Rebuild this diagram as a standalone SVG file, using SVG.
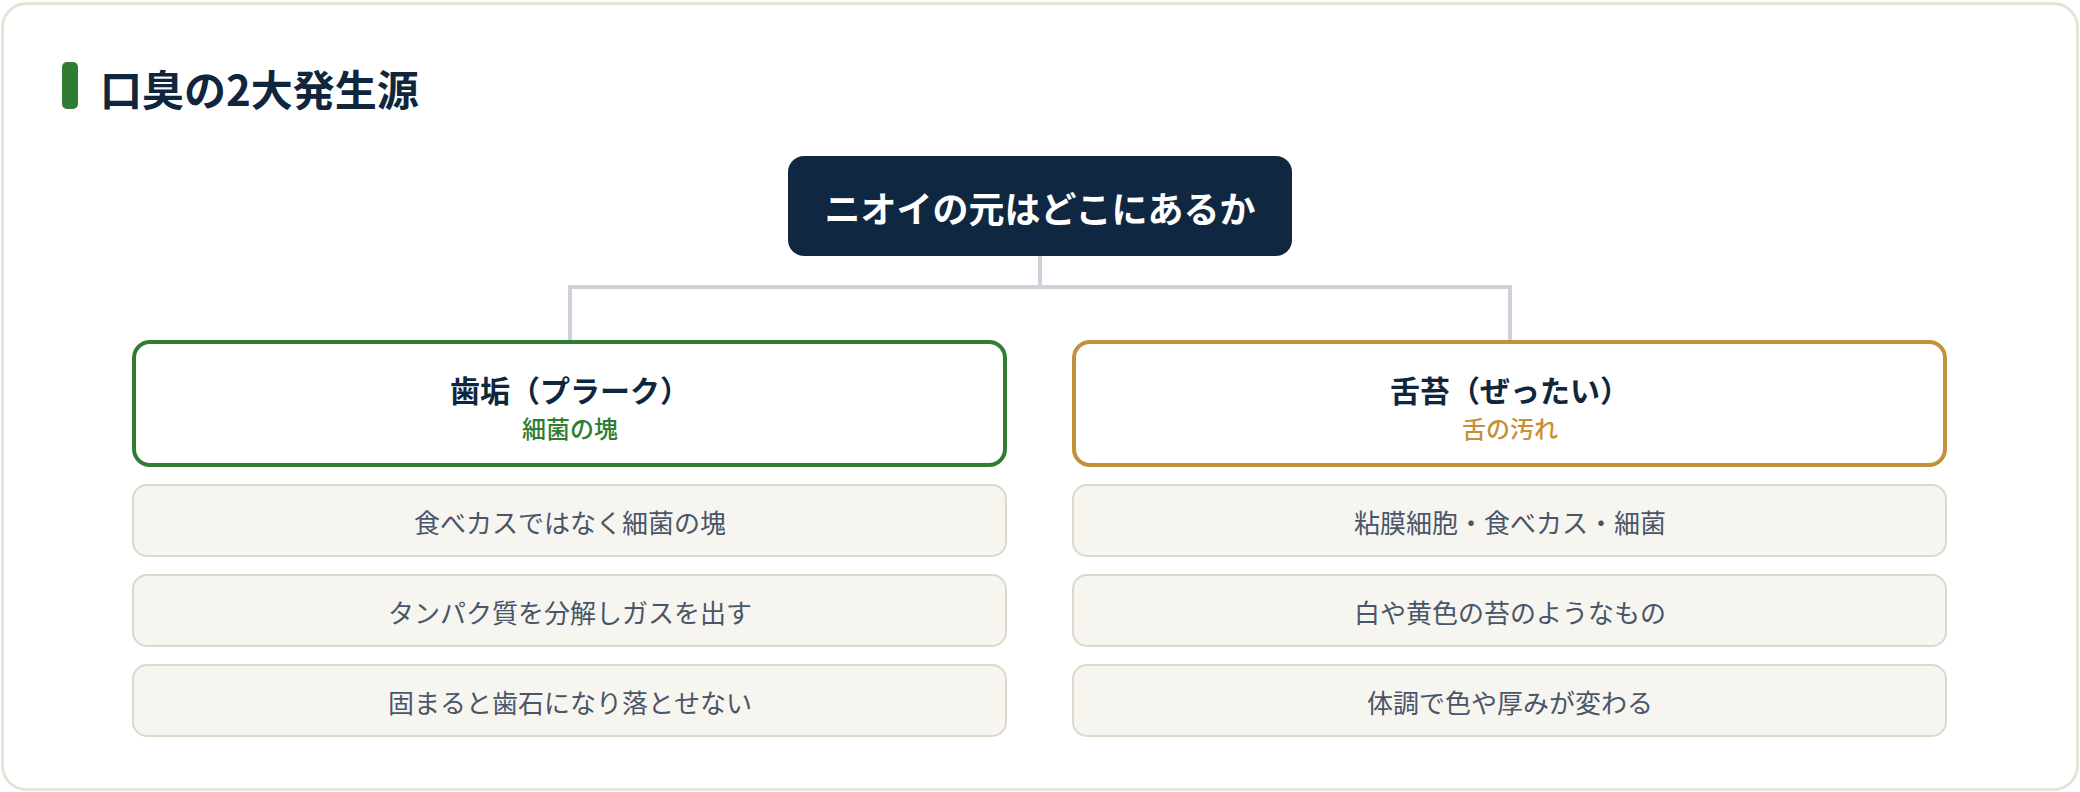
<svg xmlns="http://www.w3.org/2000/svg" width="2080" height="792" viewBox="0 0 2080 792">
<style>
text{font-family:"Noto Sans CJK JP","Noto Sans",sans-serif;text-anchor:middle;dominant-baseline:central}
.title{font-size:42px;font-weight:700;fill:#10263d;text-anchor:start}
.root-t{font-size:36px;font-weight:700;fill:#ffffff}
.cat-t{font-size:30px;font-weight:700;fill:#10263d}
.sub{font-size:24px;font-weight:500}
.item rect{fill:#f6f5f0;stroke:#dcd9ca;stroke-width:2}
.item text{font-size:26px;font-weight:400;fill:#4a5568}
.conn{fill:none;stroke:#cbd2db;stroke-width:4}
</style>
<rect x="2.5" y="3.5" width="2075" height="786" rx="24" fill="#ffffff" stroke="#e6e3d7" stroke-width="3"/>
<g id="heading">
<rect x="62" y="62" width="16" height="47" rx="5" fill="#2e7d32"/>
<text class="title" x="100" y="87">口臭の2大発生源</text>
</g>
<g id="connectors">
<path class="conn" d="M1040 256 V287 M570 340 V287 H1510 V340"/>
</g>
<g id="root">
<rect x="788" y="156" width="504" height="100" rx="16" fill="#0f2740"/>
<text class="root-t" x="1040" y="207">ニオイの元はどこにあるか</text>
</g>
<g id="plaque">
<rect x="134" y="342" width="871" height="123" rx="16" fill="#ffffff" stroke="#2e7d32" stroke-width="4"/>
<text class="cat-t" x="570" y="389">歯垢（プラーク）</text>
<text class="sub" x="570" y="427" fill="#2e7d32">細菌の塊</text>
</g>
<g id="coating">
<rect x="1074" y="342" width="871" height="123" rx="16" fill="#ffffff" stroke="#c4913a" stroke-width="4"/>
<text class="cat-t" x="1510" y="389">舌苔（ぜったい）</text>
<text class="sub" x="1510" y="427" fill="#c4913a">舌の汚れ</text>
</g>
<g id="plaque-1" class="item"><rect x="133" y="485" width="873" height="71" rx="14"/><text x="570" y="521">食べカスではなく細菌の塊</text></g>
<g id="plaque-2" class="item"><rect x="133" y="575" width="873" height="71" rx="14"/><text x="570" y="611">タンパク質を分解しガスを出す</text></g>
<g id="plaque-3" class="item"><rect x="133" y="665" width="873" height="71" rx="14"/><text x="570" y="701">固まると歯石になり落とせない</text></g>
<g id="coating-1" class="item"><rect x="1073" y="485" width="873" height="71" rx="14"/><text x="1510" y="521">粘膜細胞・食べカス・細菌</text></g>
<g id="coating-2" class="item"><rect x="1073" y="575" width="873" height="71" rx="14"/><text x="1510" y="611">白や黄色の苔のようなもの</text></g>
<g id="coating-3" class="item"><rect x="1073" y="665" width="873" height="71" rx="14"/><text x="1510" y="701">体調で色や厚みが変わる</text></g>
</svg>
